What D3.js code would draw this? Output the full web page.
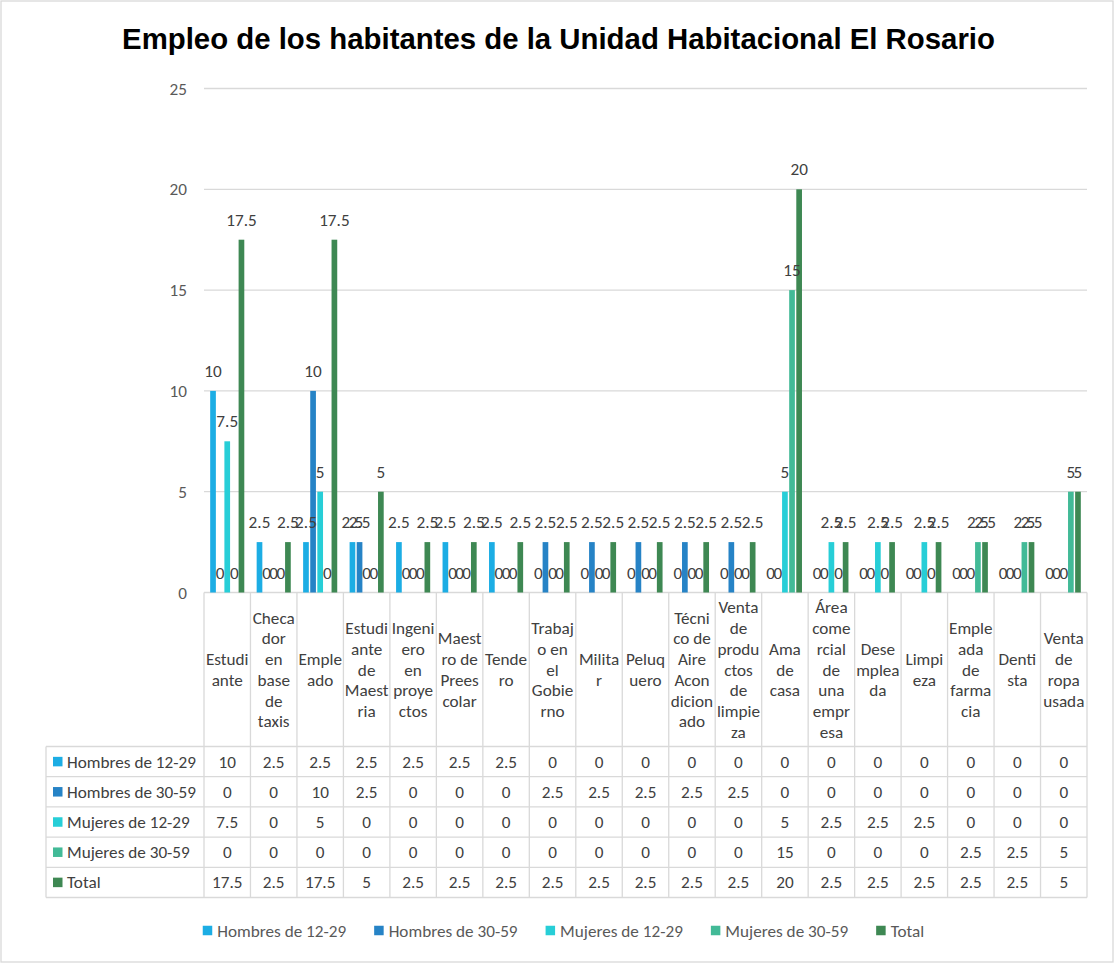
<!DOCTYPE html>
<html>
<head>
<meta charset="utf-8">
<script src="https://cdn.jsdelivr.net/npm/d3@7"></script>
<style>
  html, body { margin: 0; padding: 0; background: #fff; }
  svg { display: block; }
</style>
</head>
<body>
<svg id="chart" width="1115" height="964"></svg>
<script>
// ---------------- DATA ----------------
const title = "Empleo de los habitantes de la Unidad Habitacional El Rosario";

const categories = [
  "Estudiante", "Checador en base de taxis", "Empleado", "Estudiante de Maestria",
  "Ingeniero en proyectos", "Maestro de Preescolar", "Tendero", "Trabajo en el Gobierno",
  "Militar", "Peluquero", "Técnico de Aire Acondicionado", "Venta de productos de limpieza",
  "Ama de casa", "Área comercial de una empresa", "Desempleada", "Limpieza",
  "Empleada de farmacia", "Dentista", "Venta de ropa usada"
];

// how the category names are wrapped in the table header (as in the original)
const categoryLines = [
  ["Estudi","ante"], ["Checa","dor","en","base","de","taxis"], ["Emple","ado"],
  ["Estudi","ante","de","Maest","ria"], ["Ingeni","ero","en","proye","ctos"],
  ["Maest","ro de","Prees","colar"], ["Tende","ro"], ["Trabaj","o en","el","Gobie","rno"],
  ["Milita","r"], ["Peluq","uero"], ["Técni","co de","Aire","Acon","dicion","ado"],
  ["Venta","de","produ","ctos","de","limpie","za"], ["Ama","de","casa"],
  ["Área","come","rcial","de","una","empr","esa"], ["Dese","mplea","da"], ["Limpi","eza"],
  ["Emple","ada","de","farma","cia"], ["Denti","sta"], ["Venta","de","ropa","usada"]
];

const seriesNames = ["Hombres de 12-29", "Hombres de 30-59", "Mujeres de 12-29", "Mujeres de 30-59", "Total"];

const hombres12_29 = [10, 2.5, 2.5, 2.5, 2.5, 2.5, 2.5, 0, 0, 0, 0, 0, 0, 0, 0, 0, 0, 0, 0];
const hombres30_59 = [0, 0, 10, 2.5, 0, 0, 0, 2.5, 2.5, 2.5, 2.5, 2.5, 0, 0, 0, 0, 0, 0, 0];
const mujeres12_29 = [7.5, 0, 5, 0, 0, 0, 0, 0, 0, 0, 0, 0, 5, 2.5, 2.5, 2.5, 0, 0, 0];
const mujeres30_59 = [0, 0, 0, 0, 0, 0, 0, 0, 0, 0, 0, 0, 15, 0, 0, 0, 2.5, 2.5, 5];
const total        = [17.5, 2.5, 17.5, 5, 2.5, 2.5, 2.5, 2.5, 2.5, 2.5, 2.5, 2.5, 20, 2.5, 2.5, 2.5, 2.5, 2.5, 5];

const seriesValues = [hombres12_29, hombres30_59, mujeres12_29, mujeres30_59, total];
const seriesColors = ["#1CADE4", "#2683C6", "#27CED7", "#42BA97", "#3E8853"];

const yTicks = [0, 5, 10, 15, 20, 25];

// ---------------- LAYOUT ----------------
const svg = d3.select("#chart");
const W = 1115, H = 964;
const plotLeft = 204, plotRight = 1087, plotTop = 88.5, plotBottom = 592.5;
const tableRowTop = 746.5, rowH = 30.2, tableLeft = 46;
const gridColor = "#D9D9D9";
const bodyFamily = "Carlito, Lato, 'Open Sans', sans-serif";

// measure helper
function measure(str, family, size, weight) {
  const t = svg.append("text").attr("font-family", family).attr("font-size", size)
    .attr("font-weight", weight || "normal").text(str);
  const w = t.node().getComputedTextLength();
  t.remove();
  return w;
}
// fit body font so "Hombres de 12-29" is ~129px wide (as in the original)
const fs = 17 * 129 / measure("Hombres de 12-29", bodyFamily, 17);

// outer border
svg.append("rect").attr("x", 1).attr("y", 1).attr("width", W - 3).attr("height", H - 3)
  .attr("fill", "#fff").attr("stroke", gridColor).attr("stroke-width", 1.3);

// title
const titleFamily = "'Liberation Sans', Arial, sans-serif";
const titleSize = 100 * 873 / measure(title, titleFamily, 100, "bold");
svg.append("text").attr("x", 558.5).attr("y", 49).attr("text-anchor", "middle")
  .attr("font-family", titleFamily).attr("font-weight", "bold").attr("font-size", titleSize)
  .attr("fill", "#000").text(title);

// scales
const x = d3.scaleBand().domain(categories).range([plotLeft, plotRight]).padding(0);
const xs = d3.scaleBand().domain(seriesNames).range([0, x.bandwidth()])
  .paddingInner(0.2).paddingOuter(0.87);
const y = d3.scaleLinear().domain([0, 25]).range([plotBottom, plotTop]);

// gridlines
svg.append("g").selectAll("line").data(yTicks).join("line")
  .attr("x1", plotLeft).attr("x2", plotRight)
  .attr("y1", d => y(d)).attr("y2", d => y(d))
  .attr("stroke", gridColor).attr("stroke-width", 1.3);

// y axis labels
const yAxis = d3.axisLeft(y).tickValues(yTicks).tickSize(0).tickPadding(17);
const gy = svg.append("g").attr("transform", `translate(${plotLeft},0)`).call(yAxis);
gy.select(".domain").remove();
gy.selectAll("text").attr("font-family", bodyFamily).attr("font-size", fs).attr("fill", "#595959");

// bars
const barData = [];
seriesNames.forEach((s, si) => {
  categories.forEach((c, ci) => {
    barData.push({ s, si, c, v: seriesValues[si][ci] });
  });
});
svg.append("g").selectAll("rect").data(barData).join("rect")
  .attr("x", d => x(d.c) + xs(d.s))
  .attr("width", xs.bandwidth())
  .attr("y", d => y(d.v))
  .attr("height", d => y(0) - y(d.v))
  .attr("fill", d => seriesColors[d.si]);

// data labels
svg.append("g").selectAll("text").data(barData).join("text")
  .attr("x", d => x(d.c) + xs(d.s) + xs.bandwidth() / 2)
  .attr("y", d => y(d.v) - 20)
  .attr("dy", "0.35em")
  .attr("text-anchor", "middle")
  .attr("font-family", bodyFamily).attr("font-size", fs).attr("fill", "#404040")
  .text(d => String(d.v));

// ---------------- DATA TABLE ----------------
const nRows = seriesNames.length;
const tableBottom = tableRowTop + rowH * nRows;
const tg = svg.append("g");

// vertical lines
const colEdges = categories.map(c => x(c)).concat([plotRight]);
tg.selectAll("line.v").data(colEdges).join("line").attr("class", "v")
  .attr("x1", d => d).attr("x2", d => d).attr("y1", plotBottom).attr("y2", tableBottom)
  .attr("stroke", gridColor).attr("stroke-width", 1.3);
tg.append("line").attr("x1", tableLeft).attr("x2", tableLeft)
  .attr("y1", tableRowTop).attr("y2", tableBottom)
  .attr("stroke", gridColor).attr("stroke-width", 1.3);
// horizontal lines
tg.selectAll("line.h").data(d3.range(nRows + 1)).join("line").attr("class", "h")
  .attr("x1", tableLeft).attr("x2", plotRight)
  .attr("y1", r => tableRowTop + r * rowH).attr("y2", r => tableRowTop + r * rowH)
  .attr("stroke", gridColor).attr("stroke-width", 1.3);

// header (category names)
const lineH = fs * 1.21;
const headerMid = (plotBottom + tableRowTop) / 2;
categories.forEach((c, ci) => {
  const lines = categoryLines[ci];
  const t = tg.append("text").attr("text-anchor", "middle")
    .attr("font-family", bodyFamily).attr("font-size", fs).attr("fill", "#404040");
  const start = headerMid - (lines.length - 1) * lineH / 2;
  lines.forEach((ln, li) => {
    t.append("tspan").attr("x", x(c) + x.bandwidth() / 2)
      .attr("y", start + li * lineH).attr("dy", "0.35em").text(ln);
  });
});

// rows
seriesNames.forEach((s, si) => {
  const cy = tableRowTop + si * rowH + rowH / 2;
  tg.append("rect").attr("x", 53).attr("y", cy - 4.75).attr("width", 9.5).attr("height", 9.5)
    .attr("fill", seriesColors[si]);
  tg.append("text").attr("x", 67).attr("y", cy).attr("dy", "0.35em")
    .attr("font-family", bodyFamily).attr("font-size", fs).attr("fill", "#404040").text(s);
  categories.forEach((c, ci) => {
    tg.append("text").attr("x", x(c) + x.bandwidth() / 2).attr("y", cy).attr("dy", "0.35em")
      .attr("text-anchor", "middle")
      .attr("font-family", bodyFamily).attr("font-size", fs).attr("fill", "#404040")
      .text(String(seriesValues[si][ci]));
  });
});

// ---------------- LEGEND ----------------
const legendY = 930.5, sq = 9.5, sqGap = 5, itemGap = 28;
const widths = seriesNames.map(s => measure(s, bodyFamily, fs));
const totalW = d3.sum(widths, w => sq + sqGap + w) + itemGap * (seriesNames.length - 1);
let lx = 563.5 - totalW / 2;
const lg = svg.append("g");
seriesNames.forEach((s, si) => {
  lg.append("rect").attr("x", lx).attr("y", legendY - sq / 2).attr("width", sq).attr("height", sq)
    .attr("fill", seriesColors[si]);
  lg.append("text").attr("x", lx + sq + sqGap).attr("y", legendY).attr("dy", "0.35em")
    .attr("font-family", bodyFamily).attr("font-size", fs).attr("fill", "#595959").text(s);
  lx += sq + sqGap + widths[si] + itemGap;
});
</script>
</body>
</html>
